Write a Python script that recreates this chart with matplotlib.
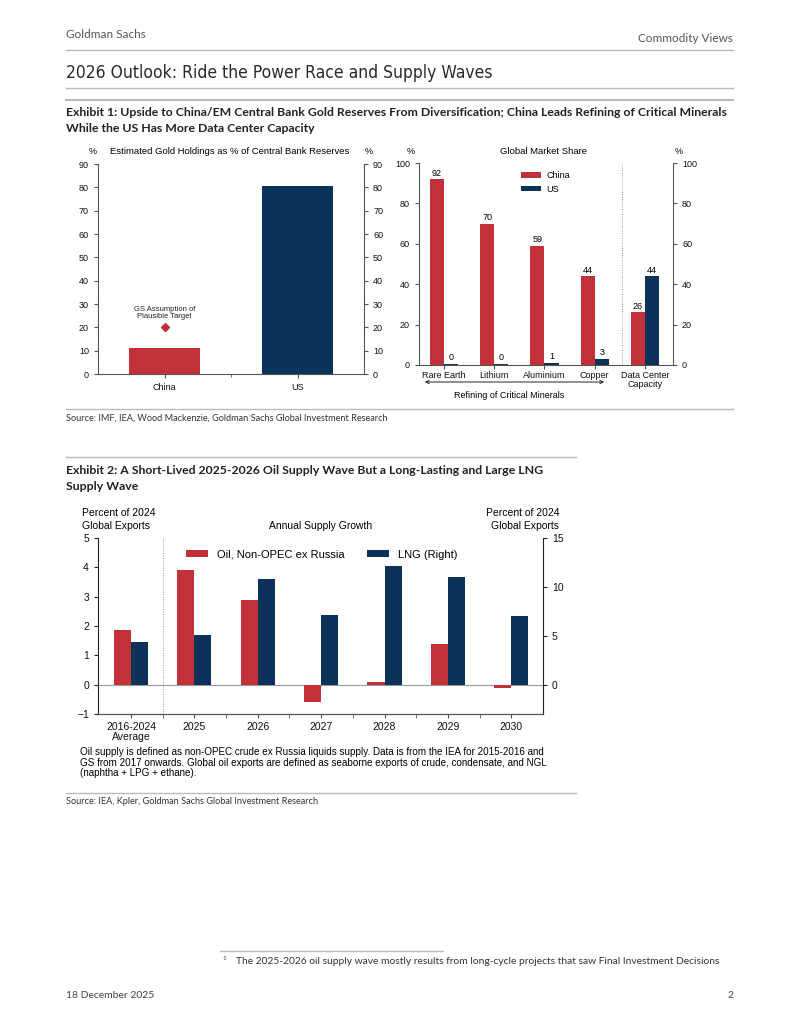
import matplotlib
matplotlib.use("Agg")
import matplotlib.pyplot as plt
from matplotlib import font_manager
import numpy as np

# ---------------- data ----------------
gold_countries = ["China", "US"]
gold_share = [11, 80.5]
gold_target = 20

mineral_cats = ["Rare Earth", "Lithium", "Aluminium", "Copper", "Data Center\nCapacity"]
china_share = [92, 70, 59, 44, 26]
us_share = [0.5, 0.5, 1, 3, 44]
us_labels = ["0", "0", "1", "3", "44"]

supply_cats = ["2016-2024\nAverage", "2025", "2026", "2027", "2028", "2029", "2030"]
oil_growth = [1.85, 3.9, 2.88, -0.6, 0.1, 1.4, -0.12]
lng_growth = [4.4, 5.1, 10.85, 7.1, 12.1, 11.05, 7.05]

RED = "#C0313A"
NAVY = "#0B3359"
GRAY = "#555555"

W, H = 800, 1035
fig = plt.figure(figsize=(8, 10.35), dpi=100)
CF = "Liberation Sans"
PF = "Lato"
names = {f.name for f in font_manager.fontManager.ttflist}
TF = "Liberation Sans Narrow" if "Liberation Sans Narrow" in names else (
    "DejaVu Sans" if "DejaVu Sans" in names else PF)
TSTRETCH = "normal" if TF == "Liberation Sans Narrow" else "condensed"


def ax_px(x0, y0, x1, y1):
    """axes from pixel box (top-left origin)"""
    return fig.add_axes([x0 / W, 1 - y1 / H, (x1 - x0) / W, (y1 - y0) / H])


def ftxt(x, y, s, **kw):
    kw.setdefault("family", PF)
    fig.text(x / W, 1 - y / H, s, **kw)


def hline(x0, x1, y, color="#bbbbbb", lw=1.0):
    fig.add_artist(plt.Line2D([x0 / W, x1 / W], [1 - y / H, 1 - y / H], color=color, lw=lw))


# ---------------- page furniture ----------------
ftxt(66, 35, "Goldman Sachs", fontsize=8.5, color="#555555", va="center")
ftxt(733, 38, "Commodity Views", fontsize=8.5, color="#555555", va="center", ha="right")
hline(66, 733, 50)
ftxt(66, 73, "2026 Outlook: Ride the Power Race and Supply Waves", fontsize=12.5, color="#2a2a2a",
     va="center", family=TF, fontstretch=TSTRETCH)
hline(66, 733, 88)
hline(66, 733, 100, lw=1.5)
ftxt(66, 113, "Exhibit 1: Upside to China/EM Central Bank Gold Reserves From Diversification; China Leads Refining of Critical Minerals",
     fontsize=8.8, fontweight="bold", color="#222222", va="center")
ftxt(66, 128, "While the US Has More Data Center Capacity", fontsize=8.8, fontweight="bold",
     color="#222222", va="center")
hline(66, 733, 409)
ftxt(66, 418, "Source: IMF, IEA, Wood Mackenzie, Goldman Sachs Global Investment Research",
     fontsize=6.6, color="#333333", va="center")

hline(66, 576, 457)
ftxt(66, 471, "Exhibit 2: A Short-Lived 2025-2026 Oil Supply Wave But a Long-Lasting and Large LNG",
     fontsize=8.8, fontweight="bold", color="#222222", va="center")
ftxt(66, 486, "Supply Wave", fontsize=8.8, fontweight="bold", color="#222222", va="center")
hline(66, 576, 793)
ftxt(66, 802, "Source: IEA, Kpler, Goldman Sachs Global Investment Research",
     fontsize=6.6, color="#333333", va="center")

hline(220, 443, 951)
ftxt(222, 959, "1", fontsize=4.5, color="#444444", va="center")
ftxt(236, 962, "The 2025-2026 oil supply wave mostly results from long-cycle projects that saw Final Investment Decisions",
     fontsize=7.35, color="#333333", va="center")
ftxt(66, 995, "18 December 2025", fontsize=7.5, color="#444444", va="center")
ftxt(733, 995, "2", fontsize=7.5, color="#444444", va="center", ha="right")


def style_axes(ax, fs):
    ax.spines["top"].set_visible(False)
    for s in ["left", "right", "bottom"]:
        ax.spines[s].set_color(GRAY)
        ax.spines[s].set_linewidth(0.8)
    ax.tick_params(axis="both", colors=GRAY, labelcolor="#111111", labelsize=fs, length=3, width=0.8)
    for lab in ax.get_yticklabels() + ax.get_xticklabels():
        lab.set_family(CF)


# ---------------- chart 1 left: gold ----------------
ax1 = ax_px(98, 164, 364, 374)
x = np.arange(len(gold_countries))
ax1.bar(x, gold_share, width=0.54, color=[RED, NAVY])
ax1.plot([0], [gold_target], marker="D", color=RED, markersize=4.5, linestyle="none")
ax1.annotate("GS Assumption of\nPlausible Target", (0, gold_target), xytext=(0, 5.5),
             textcoords="offset points", ha="center", va="bottom", fontsize=5.5,
             family=CF, color="#222222", linespacing=0.95)
ax1.set_xlim(-0.5, 1.5)
ax1.set_ylim(0, 90)
ax1.set_yticks(range(0, 91, 10))
ax1.set_xticks(x)
ax1.set_xticklabels(gold_countries)
ax1.tick_params(axis="x", length=0)
ax1.set_xticks([0.5], minor=True)
ax1.tick_params(axis="x", which="minor", length=2, color=GRAY)
ax1.tick_params(axis="y", right=True, labelright=True, direction="out")
style_axes(ax1, 6.5)
ftxt(93, 152, "%", fontsize=6.5, family=CF, ha="center", va="center")
ftxt(369, 152, "%", fontsize=6.5, family=CF, ha="center", va="center")
ftxt(230, 152, "Estimated Gold Holdings as % of Central Bank Reserves", fontsize=6.8, family=CF,
     ha="center", va="center")

# ---------------- chart 1 right: market share ----------------
ax2 = ax_px(419, 163, 673, 365)
xc = np.arange(len(mineral_cats))
bw = 0.28
ax2.bar(xc - bw / 2, china_share, width=bw, color=RED, label="China")
ax2.bar(xc + bw / 2, us_share, width=bw, color=NAVY, label="US")
for xi, v in zip(xc, china_share):
    ax2.text(xi - bw / 2, v + 0.8, str(v), ha="center", va="bottom", fontsize=6.5, family=CF)
for xi, v, lab in zip(xc, us_share, us_labels):
    ax2.text(xi + bw / 2, v + 0.8, lab, ha="center", va="bottom", fontsize=6.5, family=CF)
ax2.axvline(3.54, color="#999999", lw=0.7, linestyle=(0, (1, 1.5)))
ax2.set_xlim(-0.5, 4.56)
ax2.set_ylim(0, 100)
ax2.set_yticks(range(0, 101, 20))
ax2.set_xticks(xc)
ax2.set_xticklabels(mineral_cats, linespacing=1.0)
ax2.tick_params(axis="x", length=0, pad=1.5)
ax2.tick_params(axis="y", right=True, labelright=True, direction="out")
style_axes(ax2, 6.5)
ax2.legend(loc="upper left", bbox_to_anchor=(0.37, 1.0), frameon=False,
           handlelength=2.2, handleheight=0.55, handletextpad=0.6, labelspacing=0.5,
           prop={"family": CF, "size": 6.5})
ftxt(411, 152, "%", fontsize=6.5, family=CF, ha="center", va="center")
ftxt(679, 152, "%", fontsize=6.5, family=CF, ha="center", va="center")
ftxt(544, 152, "Global Market Share", fontsize=6.8, family=CF, ha="center", va="center")
fig.add_artist(matplotlib.patches.FancyArrowPatch((422 / W, 1 - 382 / H), (607 / W, 1 - 382 / H),
                                                  arrowstyle="<->", mutation_scale=6, color="#222222",
                                                  lw=0.7, transform=fig.transFigure))
ftxt(509, 396, "Refining of Critical Minerals", fontsize=6.5, family=CF, ha="center", va="center")

# ---------------- chart 2: supply waves ----------------
ax3 = ax_px(98, 538, 543, 714)
ax4 = ax3.twinx()
xs = np.arange(len(supply_cats))
bw2 = 0.27
ax3.bar(xs - bw2 / 2, oil_growth, width=bw2, color=RED, label="Oil, Non-OPEC ex Russia", zorder=3)
ax4.bar(xs + bw2 / 2, lng_growth, width=bw2, color=NAVY, label="LNG (Right)", zorder=3)
ax3.axhline(0, color="#999999", lw=0.8, zorder=1)
ax3.axvline(0.5, color="#999999", lw=0.7, linestyle=(0, (1, 1.5)))
ax3.set_xlim(-0.52, 6.5)
ax3.set_ylim(-1, 5)
ax4.set_ylim(-3, 15)
ax3.set_yticks(range(-1, 6))
ax3.set_yticklabels(["\u22121", "0", "1", "2", "3", "4", "5"])
ax4.set_yticks([0, 5, 10, 15])
ax3.set_xticks(xs)
ax3.set_xticklabels(supply_cats, linespacing=1.0)
ax3.set_xticks(np.arange(0.5, 6.5, 1), minor=True)
ax3.tick_params(axis="x", which="major", length=0, pad=3)
ax3.tick_params(axis="x", which="minor", length=3, color=GRAY)
style_axes(ax3, 7.5)
style_axes(ax4, 7.5)
ax3.spines["right"].set_visible(False)
ax4.spines["left"].set_visible(False)
ax4.spines["right"].set_color("#222222")
ax3.spines["left"].set_color("#222222")
ax3.spines["bottom"].set_color("#222222")
ax3.tick_params(axis="y", colors="#222222", labelcolor="#111111")
ax4.tick_params(axis="y", colors="#222222", labelcolor="#111111")
for lab in ax4.get_yticklabels():
    lab.set_family(CF)
h1, l1 = ax3.get_legend_handles_labels()
h2, l2 = ax4.get_legend_handles_labels()
ax3.legend(h1 + h2, l1 + l2, loc="upper center", bbox_to_anchor=(0.503, 0.99), ncol=2, frameon=False,
           handlelength=2.0, handleheight=0.6, handletextpad=0.8, columnspacing=2.0,
           prop={"family": CF, "size": 8})
ftxt(82, 513, "Percent of 2024", fontsize=7.5, family=CF, ha="left", va="center")
ftxt(82, 526, "Global Exports", fontsize=7.5, family=CF, ha="left", va="center")
ftxt(559, 513, "Percent of 2024", fontsize=7.5, family=CF, ha="right", va="center")
ftxt(559, 526, "Global Exports", fontsize=7.5, family=CF, ha="right", va="center")
ftxt(321, 526, "Annual Supply Growth", fontsize=7.5, family=CF, ha="center", va="center")
ftxt(80, 752, "Oil supply is defined as non-OPEC crude ex Russia liquids supply. Data is from the IEA for 2015-2016 and",
     fontsize=7.1, family=CF, va="center")
ftxt(80, 762.5, "GS from 2017 onwards. Global oil exports are defined as seaborne exports of crude, condensate, and NGL",
     fontsize=7.1, family=CF, va="center")
ftxt(80, 773, "(naphtha + LPG + ethane).", fontsize=7.1, family=CF, va="center")

fig.savefig("out.png", dpi=100, facecolor="white")
